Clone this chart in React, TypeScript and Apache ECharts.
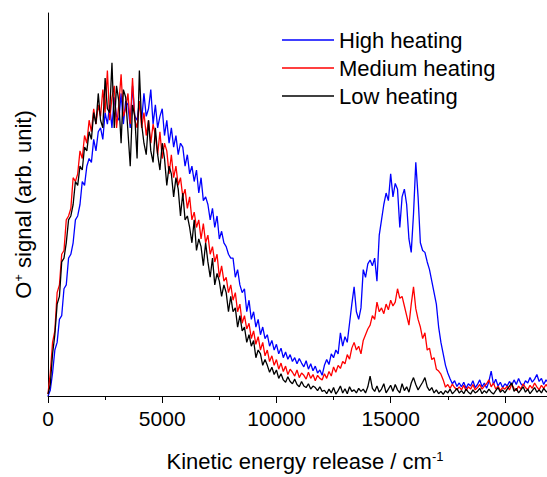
import React, { useEffect, useRef } from 'react';
import * as echarts from 'echarts';

// Sample spacing of the spectra (cm^-1); sample i sits at i * STEP
const STEP = 100;

// O+ signal (arb. unit, 0-100 scale), 0 .. 22000 cm^-1
const highHeating = [
  0, 1.5, 6, 12, 14, 20, 21, 28, 29, 36, 37, 40, 46, 47, 50, 56, 55, 60, 62, 61, 67,
  64, 69, 70, 67, 74, 71, 76, 70, 78, 73, 72, 79, 71, 77, 76, 70, 81, 73, 72, 77,
  72, 79, 73, 75, 80, 71, 76, 70, 73, 75, 68, 72, 66, 70, 65, 68, 63, 66, 65, 60,
  63, 58, 60, 56, 59, 53, 57, 51, 52, 50, 46, 49, 44, 47, 41, 43, 40, 39, 37, 36,
  36, 31, 33, 29, 27, 28, 22, 25, 20, 22, 18, 20, 16, 18, 15, 16, 13, 14.5, 12, 13.5,
  11, 12.5, 10, 11.5, 9.6, 10.8, 9, 10, 8.4, 9.8, 8.6, 7.6, 9.2, 7, 8.4, 6.6, 7.8, 6, 6.8, 5.4,
  8, 9.5, 8.2, 11, 10, 12, 11, 16.5, 13, 15.5, 14, 19, 24, 28.5, 22, 20, 23, 33, 31, 34.5,
  35.5, 34, 36, 30, 42, 46, 50, 53, 51, 58, 52, 55.5, 54, 44, 52, 54, 50, 41, 37.5, 47.5,
  61, 52, 40, 38, 37.5, 35, 33, 30, 27, 24, 18, 14, 11, 8, 6, 4.5, 3.2, 4, 2.5, 3.4,
  2.4, 3.6, 2, 3.2, 2.6, 4, 2.2, 3, 4.2, 2.4, 3.4, 2, 3.8, 6.5, 3, 4.4, 2.6, 3.6, 2.2, 3.2,
  2.6, 3.8, 2.8, 4.2, 3, 4.6, 3.2, 2.6, 4, 3.4, 4.8, 3.6, 4.4, 5.6, 3.8, 4.6, 3, 4.2, 3.4, 4.6,
];

const mediumHeating = [
  0.5, 6, 14, 17, 27, 29, 37, 38, 46, 47, 49, 57, 56, 58, 64, 62, 68, 66, 72, 69, 75,
  71, 76, 73, 80, 74, 85, 72, 78, 81, 70, 76, 84, 73, 75, 79, 71, 83, 72, 70, 77,
  70, 74, 68, 72, 66, 71, 68, 63, 69, 62, 66, 64, 58, 63, 57, 60, 55, 57, 52, 54,
  49, 52, 46, 48, 44, 46, 41, 45, 40, 42, 37, 39, 35, 37, 31, 34, 30, 31, 27, 29,
  25, 27, 22, 24, 19, 21, 17.5, 19, 15, 17, 13.5, 15.5, 12, 14, 10.5, 12, 9, 10.5, 8, 9.5,
  7, 8.6, 6.4, 7.8, 5.6, 7, 6.2, 5.2, 6.8, 4.8, 6, 5.4, 4.4, 6.2, 4.6, 5.6, 4, 5.4, 4.6, 4.2,
  5.8, 4.6, 6.4, 5.2, 7.6, 6.2, 8, 7.2, 9, 8.4, 10.8, 9.6, 12.5, 14, 12, 13, 11, 14.5, 16, 17.5,
  18.5, 21, 20, 24.5, 22, 23, 21.5, 24, 22.5, 25, 23.5, 24.5, 28, 25.5, 26, 23.5, 21, 18.5, 24, 28.5,
  22.8, 20, 18, 15, 16.5, 12, 12.5, 9.5, 10, 7, 6.5, 5.7, 4.2, 2.3, 3, 2, 3.1, 2.2, 1.6, 2.4,
  1.6, 2.8, 1.4, 2.4, 1.8, 3, 1.6, 2.2, 3, 1.8, 2.6, 3.2, 4.2, 2.4, 3.4, 1.8, 2.6, 1.4, 2.2, 1.8,
  2.6, 1.6, 3, 2, 1.4, 2.6, 1.8, 3.2, 2.2, 1.6, 2.8, 2, 3.4, 2.4, 1.6, 2.8, 2, 3, 2.2, 1.6,
];

const lowHeating = [
  0.5, 3, 11, 16, 24, 26, 35, 36, 40, 46, 47, 50, 56, 55, 60, 59, 65, 64, 69, 67, 74,
  71, 79, 72, 70, 83, 75, 74, 87, 70, 81, 77, 66, 80, 78, 69, 60, 76, 73, 62, 85,
  71, 66, 63, 72, 64, 61, 70, 63, 59, 66, 62, 55, 60, 58, 52, 57, 54, 47, 53, 46,
  47, 44, 40, 46, 38, 41, 39, 34, 40, 35, 31, 36, 29, 32, 30, 26, 29, 27, 22, 26,
  22, 23, 18, 21, 17, 18, 14, 16, 13, 14.5, 10, 12, 11, 8, 9.5, 8, 6.2, 7.5, 5.6, 6.8,
  4.6, 5.8, 4.2, 3.6, 5, 3.8, 3.2, 4.4, 3, 2.4, 3.8, 2.6, 2.2, 3.2, 1.8, 2.6, 2.2, 1.4, 2.4, 1.2,
  1.5, 0.6, 1.8, 0.8, 2.2, 0.5, 1.4, 2.6, 0.8, 1.9, 0.6, 2.4, 1.2, 1.6, 0.8, 2, 1.2, 1.8, 0.8, 2.4,
  5.2, 2, 1.2, 2.6, 1, 1.8, 3.2, 0.8, 1.8, 2.8, 1.2, 3, 1.6, 0.8, 3.2, 1.4, 2.4, 1, 3.4, 4.8,
  3, 1.6, 2.6, 3.6, 4.8, 2.4, 1.4, 2.2, 0.8, 1.6, 0.6, 1.2, 0.4, 1.4, 0.8, 1.8, 0.6, 1.2, 2, 0.8,
  1.4, 0.6, 1.8, 1, 0.5, 1.6, 0.8, 1.2, 2, 0.6, 1.4, 0.8, 1.8, 1, 0.5, 1.4, 2.2, 1, 1.6, 0.8,
  1.8, 2.6, 3.4, 1.2, 2, 0.8, 1.6, 2.4, 1, 1.8, 0.6, 1.4, 2.2, 1, 1.6, 0.8, 2, 1.2, 0.8, 1.6,
];

const seriesNames = ['High heating', 'Medium heating', 'Low heating'];
const seriesColors = ['#0000ff', '#ff0000', '#000000'];
const xMajorInterval = 5000;
const xMinorInterval = 2500;
const xMax = 22500;

const FONT = '"Liberation Sans", Arial, Helvetica, sans-serif';

function toPairs(values: number[]) {
  return values.map((v, i) => [i * STEP, v]);
}

export default function App() {
  const ref = useRef<HTMLDivElement>(null);

  useEffect(() => {
    if (!ref.current) return;
    const chart = echarts.init(ref.current, undefined, { renderer: 'svg' });
    const allData = [highHeating, mediumHeating, lowHeating];
    chart.setOption({
      animation: false,
      textStyle: { fontFamily: FONT, color: '#000' },
      grid: { left: 48, top: 13, width: 514, bottom: 75, containLabel: false },
      legend: {
        orient: 'vertical',
        left: 282,
        top: 29,
        padding: 0,
        icon: 'rect',
        itemWidth: 52,
        itemHeight: 1.5,
        itemGap: 6,
        data: seriesNames,
        textStyle: { fontSize: 22, fontFamily: FONT, color: '#000', lineHeight: 22 },
        selectedMode: false,
      },
      xAxis: [
        {
          type: 'value',
          min: 0,
          max: xMax,
          interval: xMinorInterval,
          position: 'bottom',
          axisLine: { show: true, lineStyle: { color: '#000', width: 1 } },
          axisTick: { show: true, length: 4, lineStyle: { color: '#000' } },
          axisLabel: {
            fontSize: 21,
            fontFamily: FONT,
            color: '#000',
            margin: 12,
            formatter: (v: number) => (v % xMajorInterval === 0 ? String(v) : ''),
          },
          splitLine: { show: false },
          name: 'Kinetic energy release / cm{sup|-1}',
          nameLocation: 'middle',
          nameGap: 54,
          nameTextStyle: {
            fontSize: 22,
            fontFamily: FONT,
            color: '#000',
            rich: {
              sup: { fontSize: 13, fontFamily: FONT, color: '#000', verticalAlign: 'top', lineHeight: 13 },
            },
          },
        },
        {
          type: 'value',
          min: 0,
          max: xMax,
          interval: xMajorInterval,
          position: 'bottom',
          axisLine: { show: false },
          axisTick: { show: true, length: 7, lineStyle: { color: '#000' } },
          axisLabel: { show: false },
          splitLine: { show: false },
        },
      ],
      yAxis: {
        type: 'value',
        min: 0,
        max: 100,
        axisLine: { show: true, lineStyle: { color: '#000', width: 1 } },
        axisTick: { show: false },
        axisLabel: { show: false },
        splitLine: { show: false },
        name: 'O{sup|+} signal (arb. unit)',
        nameLocation: 'middle',
        nameGap: 14,
        nameTextStyle: {
          fontSize: 22,
          fontFamily: FONT,
          color: '#000',
          rich: {
            sup: { fontSize: 13, fontFamily: FONT, color: '#000', verticalAlign: 'top', lineHeight: 13 },
          },
        },
      },
      series: seriesNames.map((name, k) => ({
        name,
        type: 'line',
        xAxisIndex: 0,
        data: toPairs(allData[k]),
        symbol: 'none',
        showSymbol: false,
        lineStyle: { color: seriesColors[k], width: 1.3 },
        itemStyle: { color: seriesColors[k] },
        silent: true,
      })),
    });
    return () => chart.dispose();
  }, []);

  return (
    <div
      ref={ref}
      style={{ position: 'fixed', left: 0, top: 0, width: 570, height: 477, background: '#fff' }}
    />
  );
}
